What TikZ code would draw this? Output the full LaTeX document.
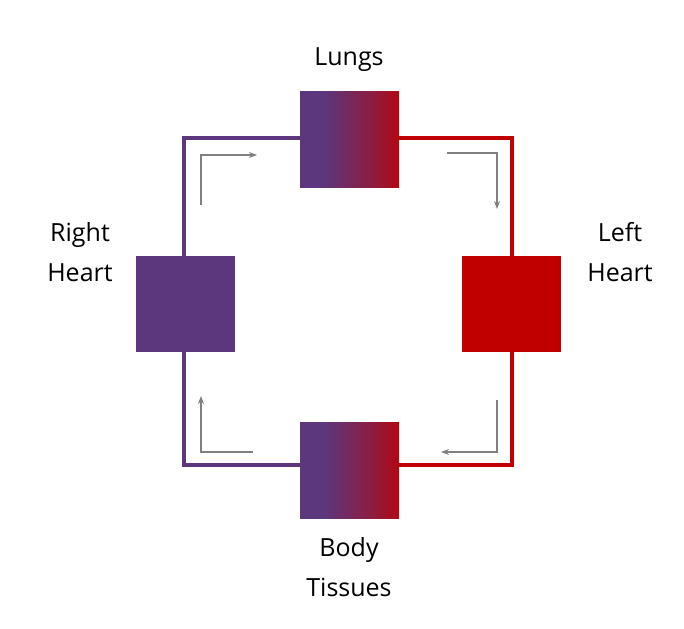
\documentclass[tikz,border=0pt]{standalone}
\usepackage{fontspec}
\usetikzlibrary{arrows.meta}
\setmainfont{Open Sans}
\begin{document}
\definecolor{pur}{RGB}{92,55,125}
\definecolor{rd}{RGB}{192,0,0}
\pgfdeclarehorizontalshading{pr}{100bp}{color(0bp)=(pur);color(37bp)=(pur);color(62bp)=(pur!50!rd);color(80bp)=(rd);color(100bp)=(rd)}
\begin{tikzpicture}[x=1pt,y=-1pt,
  box/.style={minimum width=99pt,minimum height=96pt,inner sep=0pt,draw=none},
  lbl/.style={font=\fontsize{25}{40}\selectfont,align=center,text=black},
  loop/.style={line width=4pt},
  ga/.style={draw=gray,line width=1.2pt,-{Stealth[length=8pt,width=6pt,open]}}]
\useasboundingbox (0,0) rectangle (684,628);
\coordinate (tl) at (184,138); \coordinate (tr) at (512,138);
\coordinate (bl) at (184,465); \coordinate (br) at (512,465);
\draw[loop,pur] (349,138) -- (tl) -- (bl) -- (349,465);
\draw[loop,rd] (349,138) -- (tr) -- (br) -- (349,465);
\node[box,shading=pr] (lungs) at (349.5,140) {};
\node[box,shading=pr] (body) at (349.5,470) {};
\node[box,fill=pur] (rh) at (185.5,304) {};
\node[box,fill=rd] (lh) at (511.5,304) {};
\node[lbl] (tL) at (349,60) {Lungs};
\node[lbl] (tB) at (349,567) {Body\\Tissues};
\node[lbl] (tR) at (80,252) {Right\\Heart};
\node[lbl] (tH) at (620,252) {Left\\Heart};
\coordinate (a1) at (201,205); \coordinate (a2) at (201,155); \coordinate (a3) at (257,155);
\coordinate (b1) at (447,153); \coordinate (b2) at (497,153); \coordinate (b3) at (497,209);
\coordinate (c1) at (497,400); \coordinate (c2) at (497,452); \coordinate (c3) at (441,452);
\coordinate (d1) at (253,452); \coordinate (d2) at (201,452); \coordinate (d3) at (201,396);
\draw[ga] (a1) -- (a2) -- (a3);
\draw[ga] (b1) -- (b2) -- (b3);
\draw[ga] (c1) -- (c2) -- (c3);
\draw[ga] (d1) -- (d2) -- (d3);
\end{tikzpicture}
\end{document}
